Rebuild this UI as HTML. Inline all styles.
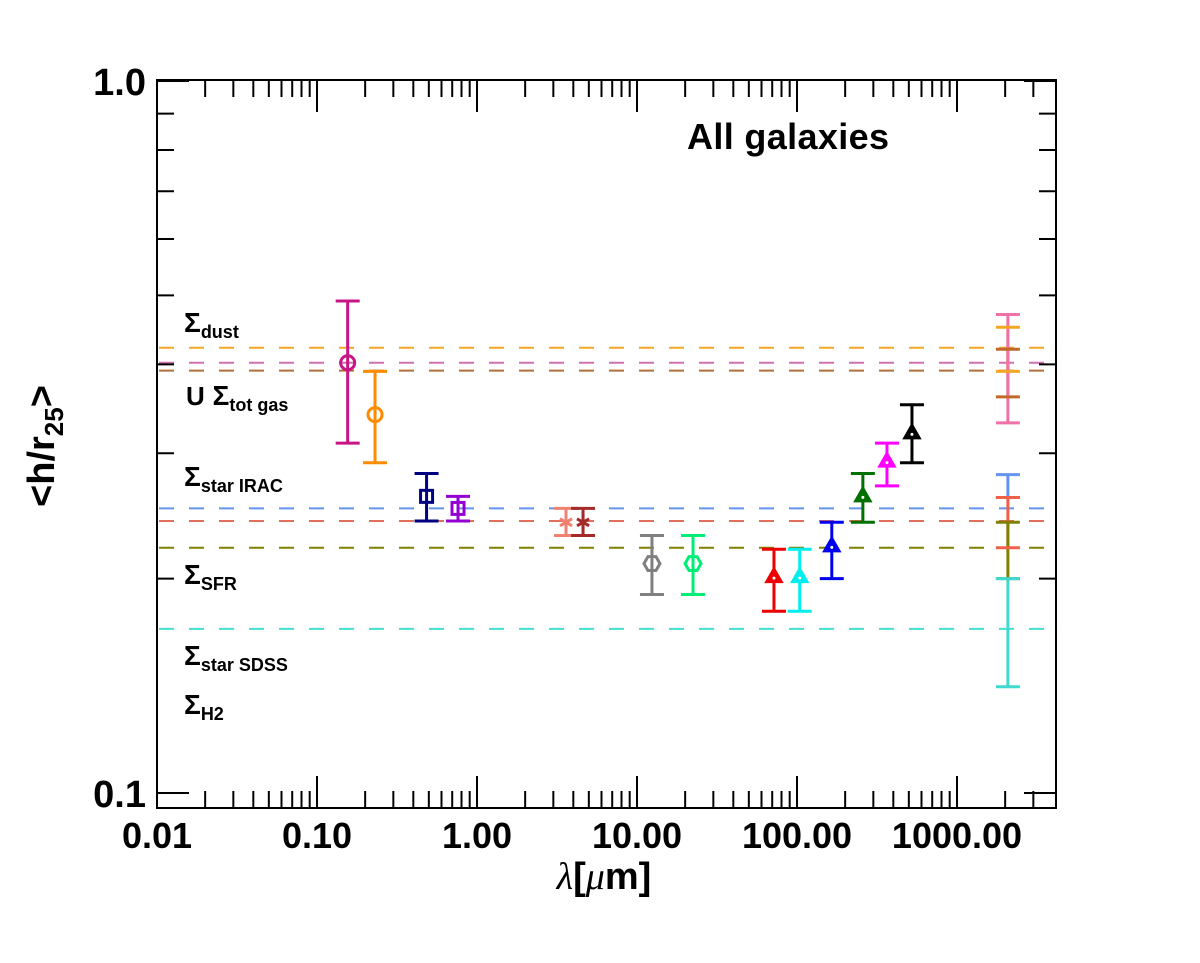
<!DOCTYPE html>
<html><head><meta charset="utf-8"><style>
body{margin:0;background:#fff;}
svg{display:block;font-family:"Liberation Sans",Arial,sans-serif;}
</style></head><body>
<svg id="chart" width="1200" height="963" xmlns="http://www.w3.org/2000/svg">
<rect x="0" y="0" width="1200" height="963" fill="#fff"/>
<g id="refs"></g>
<g id="marks"></g>
<g id="axes"></g>
<text x="687" y="149" font-size="36" font-weight="bold" textLength="202">All galaxies</text>
<g font-weight="bold" font-size="28">
<text x="184" y="332">Σ<tspan font-size="18" dy="6">dust</tspan></text>
<text x="186" y="405"><tspan font-size="26">U</tspan>  Σ<tspan font-size="18" dy="6">tot gas</tspan></text>
<text x="184" y="486">Σ<tspan font-size="18" dy="6">star IRAC</tspan></text>
<text x="184" y="584">Σ<tspan font-size="18" dy="6">SFR</tspan></text>
<text x="184" y="665">Σ<tspan font-size="18" dy="6">star SDSS</tspan></text>
<text x="184" y="714">Σ<tspan font-size="18" dy="6">H2</tspan></text>
</g>
<text transform="translate(54,446) rotate(-90)" text-anchor="middle" font-size="38" font-weight="bold">&lt;h/r<tspan font-size="26" dy="9">25</tspan><tspan dy="-9">&gt;</tspan></text>
<text x="604" y="889" text-anchor="middle" font-size="38" font-weight="bold"><tspan font-family="Liberation Serif" font-style="italic" font-weight="normal">λ</tspan>[<tspan font-family="Liberation Serif" font-style="italic" font-weight="normal">μ</tspan>m]</text>
</svg>
<script>
const lambdas=[0.1555,0.2305,0.484,0.761,3.6,4.6,12.4,22.4,71.8,104,165,258,365,523];
const values=[0.402,0.340,0.261,0.251,0.240,0.240,0.210,0.210,0.201,0.201,0.222,0.261,0.292,0.320];
const errHigh=[0.491,0.391,0.281,0.261,0.251,0.251,0.230,0.230,0.220,0.220,0.240,0.281,0.310,0.351];
const errLow=[0.310,0.291,0.241,0.241,0.230,0.230,0.190,0.190,0.180,0.180,0.200,0.240,0.270,0.291];
const pointColors=['#c71585','#ff8c00','#000080','#9400d3','#f08070','#a52a2a','#808080','#00ee76','#ee0000','#00eeee','#0000ee','#007000','#ff00ff','#000000'];
const markers=['circle','circle','square','square','star','star','hex','hex','tri','tri','tri','tri','tri','tri'];
const refValues=[0.422,0.402,0.392,0.251,0.241,0.221,0.170];
const refColors=['#f5a623','#d070b0','#b0703a','#6495ed','#e0705a','#808000','#40e0d0'];
const bandLambda=2080;
const bandHigh=[0.280,0.260,0.240,0.200,0.451,0.420,0.470];
const bandLow=[0.260,0.221,0.200,0.141,0.391,0.360,0.331];
const bandColors=['#6495ed','#f06048','#808000','#40d8d0','#f5a623','#c0682a','#f070a8'];
const xTickLabels=['0.01','0.10','1.00','10.00','100.00','1000.00'];
const yTickLabels=['0.1','1.0'];

const L=157,R=1056,T=80,B=808;
const xs=v=>L+(Math.log10(v)+2)*160;
const ys=v=>81-Math.log10(v)*712;
const NS='http://www.w3.org/2000/svg';
function mk(tag,attrs,parent){const e=document.createElementNS(NS,tag);for(const k in attrs)e.setAttribute(k,attrs[k]);parent.appendChild(e);return e;}
const refs=document.getElementById('refs'),marks=document.getElementById('marks'),axes=document.getElementById('axes');

refValues.forEach((v,i)=>{
 const l=mk('line',{x1:L+2,x2:R,y1:ys(v),y2:ys(v),stroke:refColors[i],'stroke-width':2,'stroke-dasharray':'15 15'},refs);
 
 
});

const bx=xs(bandLambda);
bandHigh.forEach((h,i)=>{
 const l=mk('line',{x1:bx,x2:bx,y1:ys(h),y2:ys(bandLow[i]),stroke:bandColors[i],'stroke-width':3},marks);
 
 
});
bandHigh.forEach((h,i)=>{
 [h,bandLow[i]].forEach(v=>{
  const c=mk('line',{x1:bx-12,x2:bx+12,y1:ys(v),y2:ys(v),stroke:bandColors[i],'stroke-width':3},marks);
  
  
 });
});

lambdas.forEach((lam,i)=>{
 const x=xs(lam),y=ys(values[i]),c=pointColors[i];
 const g=mk('g',{},marks);
 
 
 mk('line',{x1:x,x2:x,y1:ys(errHigh[i]),y2:ys(errLow[i]),stroke:c,'stroke-width':3},g);
 mk('line',{x1:x-12,x2:x+12,y1:ys(errHigh[i]),y2:ys(errHigh[i]),stroke:c,'stroke-width':3},g);
 mk('line',{x1:x-12,x2:x+12,y1:ys(errLow[i]),y2:ys(errLow[i]),stroke:c,'stroke-width':3},g);
 const m=markers[i];
 if(m==='circle')mk('circle',{cx:x,cy:y,r:7,fill:'none',stroke:c,'stroke-width':3},g);
 else if(m==='square')mk('rect',{x:x-6,y:y-6,width:12,height:12,fill:'none',stroke:c,'stroke-width':3},g);
 else if(m==='hex'){let p=[];for(let k=0;k<6;k++){const a=k*Math.PI/3;p.push((x+8*Math.cos(a))+','+(y+8*Math.sin(a)));}mk('polygon',{points:p.join(' '),fill:'none',stroke:c,'stroke-width':3},g);}
 else if(m==='tri'){mk('polygon',{points:`${x},${y-9} ${x+8},${y+5} ${x-8},${y+5}`,fill:c,stroke:c,'stroke-width':2},g);mk('circle',{cx:x,cy:y+1,r:1.5,fill:'#fff'},g);}
 else if(m==='star'){for(let k=0;k<3;k++){const a=k*Math.PI/3+Math.PI/2;mk('line',{x1:x-7*Math.cos(a),y1:y-7*Math.sin(a),x2:x+7*Math.cos(a),y2:y+7*Math.sin(a),stroke:c,'stroke-width':3},g);}}
});

const fr=mk('rect',{x:L,y:T,width:R-L,height:B-T,fill:'none',stroke:'#000','stroke-width':2},axes);


for(let d=-2;d<=3;d++){for(let k=1;k<=9;k++){const v=k*Math.pow(10,d);const x=xs(v);if(x>R-4)continue;const len=k===1?32:17;
 mk('line',{x1:x,x2:x,y1:B,y2:B-len,stroke:'#000','stroke-width':2},axes);
 mk('line',{x1:x,x2:x,y1:T,y2:T+len,stroke:'#000','stroke-width':2},axes);}}
xTickLabels.forEach((t,i)=>{
 const e=mk('text',{x:xs(Math.pow(10,i-2)),y:848,'text-anchor':'middle','font-size':36,'font-weight':'bold'},axes);
 e.textContent=t;
 
 
});
for(let k=1;k<=10;k++){const v=k/10;const y=ys(v);const len=(k===1||k===10)?32:17;
 mk('line',{x1:L,x2:L+len,y1:y,y2:y,stroke:'#000','stroke-width':2},axes);
 mk('line',{x1:R,x2:R-len,y1:y,y2:y,stroke:'#000','stroke-width':2},axes);}
yTickLabels.forEach((t,i)=>{
 const e=mk('text',{x:146,y:ys(Math.pow(10,i-1))+14,'text-anchor':'end','font-size':38,'font-weight':'bold'},axes);
 e.textContent=t;
 
 
});
</script>
</body></html>
